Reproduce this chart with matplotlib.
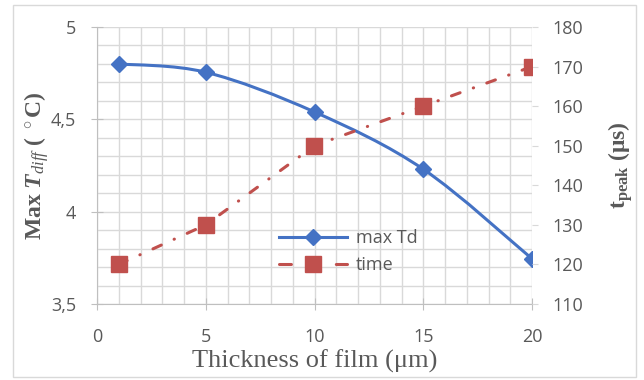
import numpy as np
import matplotlib.pyplot as plt
from matplotlib.path import Path
from matplotlib.patches import PathPatch, Rectangle
from matplotlib.lines import Line2D
from matplotlib.ticker import MultipleLocator

# data
thickness = [1, 5, 10, 15, 20]
max_td = [4.80, 4.755, 4.54, 4.23, 3.745]
t_peak = [120, 130, 150, 160, 170]

blue = '#4472C4'
red = '#C0504D'
grid_c = '#D9D9D9'
txt_c = '#595959'
dashdot = (0, (3.0, 4.6, 0.1, 4.6))

plt.rcParams['font.family'] = ['Open Sans', 'DejaVu Sans']
plt.rcParams['mathtext.fontset'] = 'custom'
plt.rcParams['mathtext.rm'] = 'Liberation Serif'
plt.rcParams['mathtext.it'] = 'Liberation Serif:italic'
plt.rcParams['mathtext.bf'] = 'Liberation Serif:bold'
plt.rcParams['mathtext.bfit'] = 'Liberation Serif:bold:italic'

fig = plt.figure(figsize=(6.44, 3.80), dpi=100)
fig.patches.append(Rectangle((13/644, 3/380), 623/644, 372/380, transform=fig.transFigure,
                             fill=False, edgecolor='#D9D9D9', lw=1))
ax = fig.add_axes([97/644, 1-304/380, 435/644, 277/380])
ax2 = ax.twinx()

ax.set_xlim(0, 20)
ax.set_ylim(3.5, 5)
ax2.set_ylim(110, 180)

ax.xaxis.set_major_locator(MultipleLocator(5))
ax.xaxis.set_minor_locator(MultipleLocator(1))
ax.yaxis.set_major_locator(MultipleLocator(0.5))
ax.yaxis.set_minor_locator(MultipleLocator(0.1))
ax2.yaxis.set_major_locator(MultipleLocator(10))

ax.grid(True, which='both', color=grid_c, lw=1)
ax.set_axisbelow(True)

for a in (ax, ax2):
    for s in a.spines.values():
        s.set_visible(False)
ax.spines['left'].set_visible(True)
ax.spines['left'].set_color('#BFBFBF')
ax.spines['bottom'].set_visible(True)
ax.spines['bottom'].set_color('#BFBFBF')

ax.tick_params(which='major', direction='inout', length=8, color='#BFBFBF', labelcolor=txt_c,
               labelsize=13)
ax.tick_params(which='minor', length=0)
ax.tick_params(axis='y', pad=11)
ax.tick_params(axis='x', pad=13)
ax2.tick_params(length=4, color='#D9D9D9', labelcolor=txt_c, labelsize=13, pad=11)

ax.set_yticks([3.5, 4, 4.5, 5])
ax.set_yticklabels(['3,5', '4', '4,5', '5'])

# smooth line (bezier like excel smoothing)
pts = np.column_stack([thickness, max_td])
verts = [tuple(pts[0])]
codes = [Path.MOVETO]
n = len(pts)
for i in range(n - 1):
    p0 = pts[max(i - 1, 0)]
    p1 = pts[i]
    p2 = pts[i + 1]
    p3 = pts[min(i + 2, n - 1)]
    c1 = p1 + (p2 - p0) / 6
    c2 = p2 - (p3 - p1) / 6
    verts += [tuple(c1), tuple(c2), tuple(p2)]
    codes += [Path.CURVE4] * 3
ax.add_patch(PathPatch(Path(verts, codes), fill=False, edgecolor=blue, lw=2.2, zorder=3))
ax.plot(thickness, max_td, ls='none', marker='D', ms=8, color=blue, zorder=4)

ax2.plot(thickness, t_peak, color=red, lw=2.2, ls=dashdot, dash_capstyle='round',
         marker='s', ms=11.5, zorder=4)

ax.set_xlabel('Thickness of film (μm)', family='Liberation Serif', fontsize=19, color=txt_c,
              labelpad=3)
ax.set_ylabel(r'Max $\mathbfit{T}_{\mathit{diff}}$ ( $^\circ$C)', family='Liberation Serif',
              fontsize=17, fontweight='bold', color=txt_c, labelpad=0)
ax2.set_ylabel(r'$\mathbf{t}_{\mathbf{peak}}$ (μs)', family='Liberation Serif', fontsize=17,
               fontweight='bold', color=txt_c, labelpad=16)

handles = [Line2D([], [], color=blue, lw=2.2, marker='D', ms=8),
           Line2D([], [], color=red, lw=2.2, ls=(0, (3.9, 14.7)), dash_capstyle='round',
                  marker='s', ms=11.5)]
ax.legend(handles, ['max Td', 'time'], loc='center left', bbox_to_anchor=(0.38, 0.19),
          frameon=False, fontsize=13, labelcolor=txt_c, handlelength=3.8, handletextpad=0.5,
          labelspacing=0.5)

fig.savefig('out.png', dpi=100)
